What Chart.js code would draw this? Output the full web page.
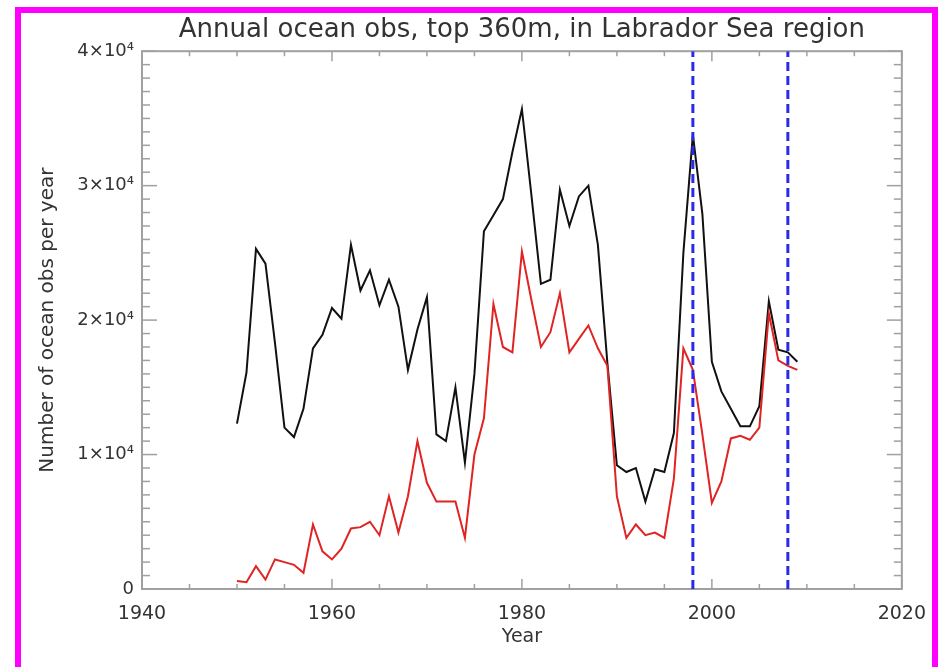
<!DOCTYPE html>
<html>
<head>
<meta charset="utf-8">
<script src="https://cdn.jsdelivr.net/npm/chart.js@4.4.1/dist/chart.umd.min.js"></script>
<style>
html,body{margin:0;padding:0;background:#fff;}
#wrap{position:relative;width:940px;height:667px;overflow:hidden;background:#fff;}
#c{position:absolute;left:0;top:0;}
#frame{position:absolute;left:15px;top:7px;width:911px;height:700px;border-top:6px solid #ff00ff;border-left:6px solid #ff00ff;border-right:6px solid #ff00ff;pointer-events:none;}
</style>
</head>
<body>
<div id="wrap"><canvas id="c" width="940" height="667"></canvas><div id="frame"></div></div>
<script>
// ---- data ----
const years = [1950,1951,1952,1953,1954,1955,1956,1957,1958,1959,
               1960,1961,1962,1963,1964,1965,1966,1967,1968,1969,
               1970,1971,1972,1973,1974,1975,1976,1977,1978,1979,
               1980,1981,1982,1983,1984,1985,1986,1987,1988,1989,
               1990,1991,1992,1993,1994,1995,1996,1997,1998,1999,
               2000,2001,2002,2003,2004,2005,2006,2007,2008,2009];
const totalObs = [12300,16100,25300,24200,18300,12000,11300,13400,17900,18900,
                  20900,20100,25600,22200,23700,21100,23000,21000,16300,19300,
                  21700,11500,11000,15000,9400,16000,26600,27800,29000,32500,
                  35700,29300,22700,23000,29700,27000,29200,30000,25600,16800,
                  9200,8700,9000,6500,8900,8700,11600,25000,33800,27900,
                  16900,14700,13400,12100,12100,13600,21400,17800,17600,16900];
const redObs   = [600,500,1700,700,2200,2000,1800,1200,4800,2800,
                  2200,3000,4500,4600,5000,4000,6900,4200,6900,11000,
                  7900,6500,6500,6500,3800,10000,12700,21200,18000,17600,
                  25100,21500,18000,19100,22000,17600,18600,19600,17900,16600,
                  6900,3800,4800,4000,4200,3800,8200,17900,16300,11500,
                  6400,8000,11200,11400,11100,12000,20500,17000,16600,16300];
const markerYears = [1998, 2008];
const xTickValues = [1940, 1960, 1980, 2000, 2020];
const yTickValues = [0, 10000, 20000, 30000, 40000];
const yTickLabels = ['0', '1×10⁴', '2×10⁴', '3×10⁴', '4×10⁴'];
const xRange = [1940, 2020];
const yRange = [0, 40000];
const xMinorStep = 5;
const yMinorStep = 1000;

// ---- styling ----
const FONT = "'DejaVu Sans', 'Liberation Sans', sans-serif";
const TEXT = '#333333';
const AXIS = '#a0a0a0';

const toPts = (vals) => years.map((yr, i) => ({x: yr, y: vals[i]}));

const datasets = [];
markerYears.forEach(yr => {
  datasets.push({
    data: [{x: yr, y: yRange[0]}, {x: yr, y: yRange[1]}],
    borderColor: '#2a2ae8', borderWidth: 3, borderDash: [9, 5],
    pointRadius: 0, fill: false
  });
});
datasets.push({data: toPts(redObs), borderColor: '#e02424', borderWidth: 2, pointRadius: 0, tension: 0, fill: false});
datasets.push({data: toPts(totalObs), borderColor: '#111111', borderWidth: 2, pointRadius: 0, tension: 0, fill: false});

const boxPlugin = {
  id: 'idlBox',
  beforeDatasetsDraw(chart) {
    const {ctx, chartArea: a, scales: {x, y}} = chart;
    ctx.save();
    ctx.strokeStyle = AXIS;
    ctx.lineWidth = 2;
    ctx.strokeRect(a.left, a.top, a.right - a.left, a.bottom - a.top);
    ctx.lineWidth = 1.5;
    const seg = (x1, y1, x2, y2) => { ctx.beginPath(); ctx.moveTo(x1, y1); ctx.lineTo(x2, y2); ctx.stroke(); };
    for (let v = xRange[0]; v <= xRange[1]; v += xMinorStep) {
      const px = x.getPixelForValue(v);
      const len = xTickValues.includes(v) ? 10 : 5;
      seg(px, a.bottom, px, a.bottom - len);
      seg(px, a.top, px, a.top + len);
    }
    for (let v = yRange[0]; v <= yRange[1]; v += yMinorStep) {
      const py = y.getPixelForValue(v);
      const len = yTickValues.includes(v) ? 15 : 8;
      seg(a.left, py, a.left + len, py);
      seg(a.right, py, a.right - len, py);
    }
    ctx.restore();
  }
};

new Chart(document.getElementById('c'), {
  type: 'line',
  data: {datasets},
  plugins: [boxPlugin],
  options: {
    responsive: false,
    animation: false,
    layout: {padding: {left: 0, right: 34, top: 0, bottom: 0}},
    plugins: {
      legend: {display: false},
      tooltip: {enabled: false},
      title: {
        display: true,
        fullSize: false,
        text: 'Annual ocean obs, top 360m, in Labrador Sea region',
        color: TEXT,
        font: {family: FONT, size: 26, weight: 'normal', lineHeight: 1.2},
        padding: {top: 15, bottom: 5}
      }
    },
    scales: {
      x: {
        type: 'linear', min: xRange[0], max: xRange[1],
        afterFit: (s) => { s.height = 78; },
        afterBuildTicks: (s) => { s.ticks = xTickValues.map(v => ({value: v})); },
        ticks: {
          autoSkip: false, maxRotation: 0, padding: 14, color: TEXT,
          font: {family: FONT, size: 19},
          callback: (v) => String(v)
        },
        grid: {display: false, drawTicks: false},
        border: {display: false},
        title: {display: true, text: 'Year', color: TEXT, font: {family: FONT, size: 19}, padding: {top: 0, bottom: 19}}
      },
      y: {
        min: yRange[0], max: yRange[1],
        afterFit: (s) => { s.width = 142; },
        afterBuildTicks: (s) => { s.ticks = yTickValues.map(v => ({value: v})); },
        ticks: {
          autoSkip: false, padding: 8, color: TEXT,
          font: {family: FONT, size: 18},
          callback: (v) => yTickLabels[yTickValues.indexOf(v)]
        },
        grid: {display: false, drawTicks: false},
        border: {display: false},
        title: {display: true, text: 'Number of ocean obs per year', color: TEXT, font: {family: FONT, size: 20}, padding: {top: 36, bottom: 0}}
      }
    }
  }
});
</script>
</body>
</html>
